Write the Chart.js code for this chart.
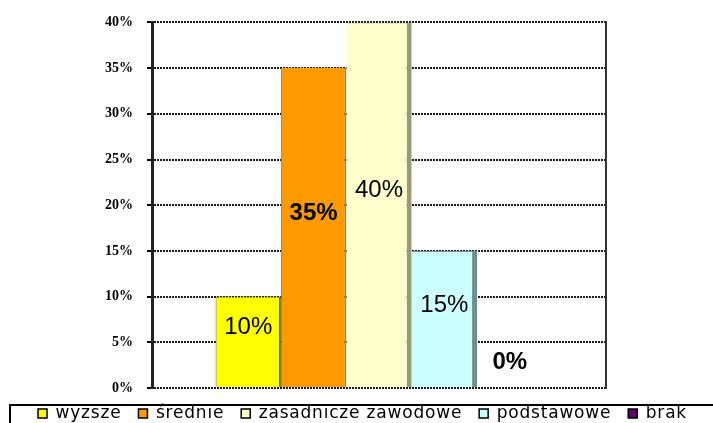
<!DOCTYPE html>
<html>
<head>
<meta charset="utf-8">
<script src="https://cdn.jsdelivr.net/npm/chart.js@4"></script>
<style>
  html, body { margin: 0; padding: 0; background: #fff; }
</style>
</head>
<body>
<canvas id="myChart" width="713" height="423"></canvas>
<script>
const categories = ["wyższe", "średnie", "zasadnicze zawodowe", "podstawowe", "brak"];
const shares = [10, 35, 40, 15, 0];
const yTicks = [0, 5, 10, 15, 20, 25, 30, 35, 40];

const barColors = ["#ffff00", "#ff9900", "#ffffcc", "#ccffff", "#660066"];
const edgeColors = ["#6b6b2a", "#d07c00", "#9a9a78", "#6f8f8f", "#330033"];
const edgeWidths = [
  { left: 1, top: 1, right: 2 },
  { left: 1, right: 2 },
  { right: 5, top: 1 },
  { right: 5, top: 1 },
  0,
];
const labelWeights = ["normal", "bold", "normal", "normal", "bold"];

const elementChart = document.querySelector("#myChart");

// legend: fixed height + a little letter spacing like the original
const legendTweaks = {
  id: "legendTweaks",
  beforeInit(chart) {
    const legend = chart.legend;
    const fit = legend.fit;
    legend.fit = function () {
      chart.ctx.letterSpacing = "0.8px";
      fit.call(this);
      chart.ctx.letterSpacing = "0px";
      this.height = 35;
    };
    const draw = legend.draw;
    legend.draw = function () {
      chart.ctx.save();
      chart.ctx.letterSpacing = "0.8px";
      draw.call(this);
      chart.ctx.restore();
    };
  },
  afterDraw(chart) {
    const ctx = chart.ctx;
    ctx.save();
    ctx.strokeStyle = "#000";
    ctx.lineWidth = 2;
    ctx.strokeRect(10, chart.legend.top + 17, chart.width, 40);
    ctx.restore();
  },
};

const valueLabels = {
  id: "valueLabels",
  afterDatasetsDraw(chart) {
    const ctx = chart.ctx;
    chart.data.datasets.forEach((ds, i) => {
      const bar = chart.getDatasetMeta(i).data[0];
      const y = Math.min((bar.y + bar.base) / 2 - 14, bar.base - 26);
      ctx.save();
      ctx.font = labelWeights[i] + ' 24px "Liberation Sans", Arial, sans-serif';
      ctx.fillStyle = "#000";
      ctx.textAlign = "center";
      ctx.textBaseline = "middle";
      ctx.fillText(ds.data[0] + "%", bar.x, y);
      ctx.restore();
    });
  },
};

const data = {
  labels: [""],
  datasets: categories.map((name, i) => ({
    label: name,
    data: [shares[i]],
    backgroundColor: barColors[i],
    borderColor: edgeColors[i],
    borderWidth: edgeWidths[i],
  })),
};

const configChart = {
  type: "bar",
  data: data,
  options: {
    responsive: false,
    animation: false,
    categoryPercentage: 0.72,
    barPercentage: 1,
    layout: { padding: { top: 20, left: 12, right: 0, bottom: 0 } },
    scales: {
      x: { display: false },
      y: {
        min: 0,
        max: 40,
        afterBuildTicks: (scale) => {
          scale.ticks = yTicks.map((v) => ({ value: v }));
        },
        afterFit: (scale) => {
          scale.width = 140;
        },
        ticks: {
          padding: 14,
          color: "#000",
          font: { family: '"Liberation Serif", "Times New Roman", serif', size: 14, weight: "bold" },
          callback: (v) => v + "%",
        },
        grid: {
          color: "#1a1a1a",
          lineWidth: 2,
          tickLength: 5,
          tickColor: "#000",
        },
        border: { display: true, color: "#222", width: 3, dash: [2, 1] },
      },
      y2: {
        position: "right",
        min: 0,
        max: 40,
        ticks: { display: false },
        grid: { drawOnChartArea: false, drawTicks: false },
        border: { display: true, color: "#333", width: 2, dash: [2, 2] },
        afterFit: (scale) => {
          scale.width = 107;
        },
      },
    },
    plugins: {
      tooltip: { enabled: false },
      legend: {
        position: "bottom",
        labels: {
          boxWidth: 9,
          boxHeight: 9,
          padding: 17,
          color: "#000",
          font: { family: '"DejaVu Sans", Verdana, sans-serif', size: 17 },
          generateLabels: (chart) =>
            Chart.defaults.plugins.legend.labels.generateLabels(chart).map((item) => ({
              ...item,
              strokeStyle: "#000",
              lineWidth: 1.5,
            })),
        },
      },
    },
  },
  plugins: [legendTweaks, valueLabels],
};

const myChart = new Chart(elementChart, configChart);
</script>
</body>
</html>
